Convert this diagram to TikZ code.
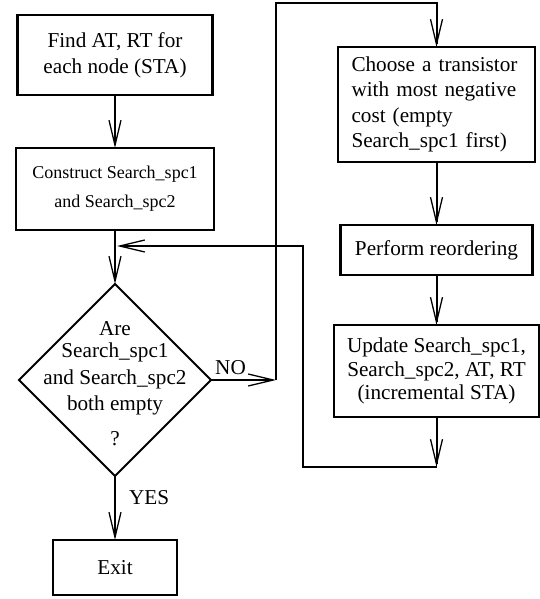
\documentclass[tikz,border=0pt]{standalone}
\usepackage{fontspec}
\setmainfont{Liberation Serif}
\usetikzlibrary{positioning,shapes.geometric,arrows.meta}

\tikzset{
  box/.style={draw, line width=2.6pt, outer sep=0pt, align=center, inner sep=2pt, font=\fontsize{21.2}{26}\selectfont},
  thinbox/.style={box, line width=2pt},
  decision/.style={draw, diamond, aspect=1, line width=2pt, outer sep=0pt, minimum width=192pt, minimum height=192pt, inner sep=0pt},
  flow/.style={line width=2pt, -{Straight Barb[length=25pt,width=12pt,line width=1.3pt]}},
  lbl/.style={font=\fontsize{21.2}{26}\selectfont, inner sep=0pt}
}

\begin{document}
\begin{tikzpicture}[x=1pt,y=-1pt]
\useasboundingbox (0,0) rectangle (540,599);
% left column
\node[box, minimum width=195pt, minimum height=80pt] (find) at (115,55) {Find AT, RT for\\each node (STA)};
\node[thinbox, minimum width=198pt, minimum height=82pt, font=\fontsize{18}{29}\selectfont, below=53pt of find] (build) {Construct Search\_spc1\\and Search\_spc2};
\node[decision, below=54pt of build] (test) {};
\node[lbl, align=center] (testtext) at ([yshift=-4pt]test.center) {Are\\[-4pt]Search\_spc1\\[1pt]and Search\_spc2\\both empty\\[9pt]?};
\node[box, minimum width=124pt, minimum height=55pt, below=64pt of test] (exit) {Exit};
% right column
\node[box, minimum width=197pt, minimum height=115pt, text width=170pt, align=left, font=\fontsize{21.2}{25.3}\selectfont] (pick) at (436.5,104.5) {Choose a transistor\\with most negative\\cost (empty\\Search\_spc1 first)};
\node[box, minimum width=192pt, minimum height=50pt, below=63pt of pick] (reorder) {Perform reordering};
\node[thinbox, minimum width=205pt, minimum height=92pt, font=\fontsize{21.2}{23.5}\selectfont, below=50pt of reorder] (update) {Update Search\_spc1,\\Search\_spc2, AT, RT\\(incremental STA)};
% bends of the two loops
\coordinate (nobend) at (276,380);
\coordinate (notop) at (276,3);
\coordinate (backlow) at (303,467);
\coordinate (backhigh) at (303,246);

\draw[flow] (find) -- (build);
\draw[flow] (build) -- (test);
\draw[flow] (test) -- node[lbl, right=13pt, pos=0.33] {YES} (exit);
\draw[flow] (test.east) -- node[lbl, above=4pt, pos=0.3] {NO} (nobend);
\draw[flow] (nobend) -- (notop) -| (pick.north);
\draw[flow] (pick) -- (reorder);
\draw[flow] (reorder) -- (update);
\draw[flow] (update.south) -- (update.south |- backlow);
\draw[flow, shorten >=2pt] (update.south |- backlow) -- (backlow) -- (backhigh) -- (backhigh -| build.south);
\end{tikzpicture}
\end{document}
